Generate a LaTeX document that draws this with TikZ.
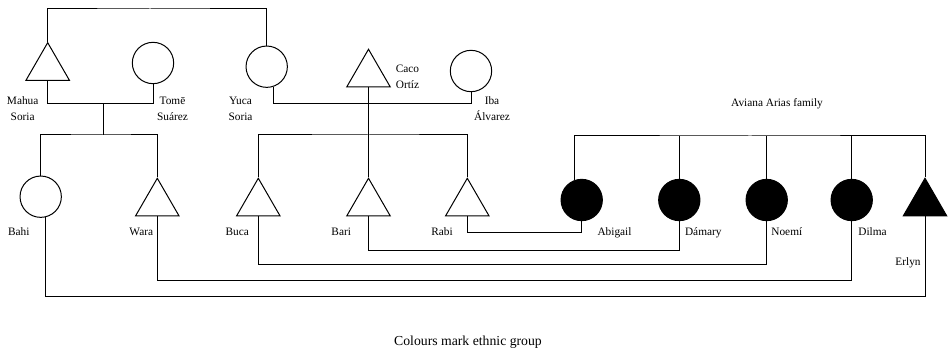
\documentclass[tikz,border=0pt]{standalone}
\usepackage{fontspec}
\setmainfont{Liberation Serif}
\usetikzlibrary{shapes.geometric}

\begin{document}
\begin{tikzpicture}[x=0.75pt, y=-0.75pt, line width=0.75pt,
    female/.style={circle, draw, inner sep=0pt, minimum size=31pt},
    male/.style={regular polygon, regular polygon sides=3, draw, inner sep=0pt, minimum size=37.7pt},
    arias/.style={fill=black},
    who/.style={font=\fontsize{8.5}{11.8}\selectfont, align=center, inner sep=0pt}]
    \useasboundingbox (0,0) rectangle (949,349);

    % first generation
    \node[male] (mahua) at (47.7,67.8) {};
    \node[female] (tome) at (153,63) {};
    \node[female] (yuca) at (266.7,66.7) {};
    \node[male] (caco) at (368.5,74.4) {};
    \node[female] (iba) at (471,71) {};

    % second generation
    \node[female] (bahi) at (40.7,196.7) {};
    \node[male] (wara) at (157.3,203.4) {};
    \node[male] (buca) at (258.3,203.4) {};
    \node[male] (bari) at (368.5,203.4) {};
    \node[male] (rabi) at (467.3,203.4) {};
    \node[female, arias] (abigail) at (581.7,200) {};
    \node[female, arias] (damary) at (679.3,200) {};
    \node[female, arias] (noemi) at (766.7,200) {};
    \node[female, arias] (dilma) at (851.7,200) {};
    \node[male, arias] (erlyn) at (925,203.4) {};

    % names
    \node[who] (mahua-l) at (22.7,108.8) {Mahua\\Soria};
    \node[who] (tome-l) at (172.5,108.8) {Tomē\\Suárez};
    \node[who] (yuca-l) at (240.5,108.8) {Yuca\\Soria};
    \node[who] (caco-l) at (407.5,76.7) {Caco\\Ortíz};
    \node[who] (iba-l) at (492,108.8) {Iba\\Álvarez};
    \node[who, anchor=base] (aviana-l) at (777,106.4) {Aviana Arias family};
    \node[who, anchor=base] (bahi-l) at (18.8,235) {Bahi};
    \node[who, anchor=base] (wara-l) at (141.3,235) {Wara};
    \node[who, anchor=base] (buca-l) at (237.2,235) {Buca};
    \node[who, anchor=base] (bari-l) at (341.2,235) {Bari};
    \node[who, anchor=base] (rabi-l) at (442,235) {Rabi};
    \node[who, anchor=base] (abigail-l) at (614.5,235) {Abigail};
    \node[who, anchor=base] (damary-l) at (703.3,235) {Dámary};
    \node[who, anchor=base] (noemi-l) at (786.8,235) {Noemí};
    \node[who, anchor=base] (dilma-l) at (872.5,235) {Dilma};
    \node[who, anchor=base] (erlyn-l) at (908,265.4) {Erlyn};
    \node[anchor=base, inner sep=0pt, font=\fontsize{10.3}{12}\selectfont] (caption) at (468,345) {Colours mark ethnic group};

    % parents and siblings
    \coordinate (top) at (150,9);
    \draw (mahua.north) |- (top) -| (yuca.north);
    \coordinate (mt) at (103.3,103.3);
    \draw (mahua.south) |- (mt) -| (tome.south);
    \coordinate (sib1) at (103.3,135);
    \draw (mt) -- (sib1);
    \draw (bahi.north) |- (sib1) -| (wara.north);
    \coordinate (yi) at (368.5,103.3);
    \draw (yuca.-71) |- (yi) -| (iba.south);
    \coordinate (sib2) at (368.5,135);
    \draw (buca.north) |- (sib2) -| (rabi.north);
    \draw (caco.south) -- (bari.north);
    \coordinate (av) at (750,136);
    \draw (abigail.109) |- (av) -| (erlyn.north);
    \draw (damary.north) -- (damary.north |- av);
    \draw (noemi.north) -- (noemi.north |- av);
    \draw (dilma.north) -- (dilma.north |- av);

    % marriages
    \draw (rabi.south) -- (rabi.south |- 0,232.7) -| (abigail.south);
    \draw (bari.south) -- (bari.south |- 0,250) -| (damary.south);
    \draw (buca.south) -- (buca.south |- 0,264.3) -| (noemi.south);
    \draw (wara.south) -- (wara.south |- 0,280.7) -| (dilma.south);
    \draw (bahi.-78) -- (bahi.-78 |- 0,296) -| (erlyn.south);
\end{tikzpicture}
\end{document}
